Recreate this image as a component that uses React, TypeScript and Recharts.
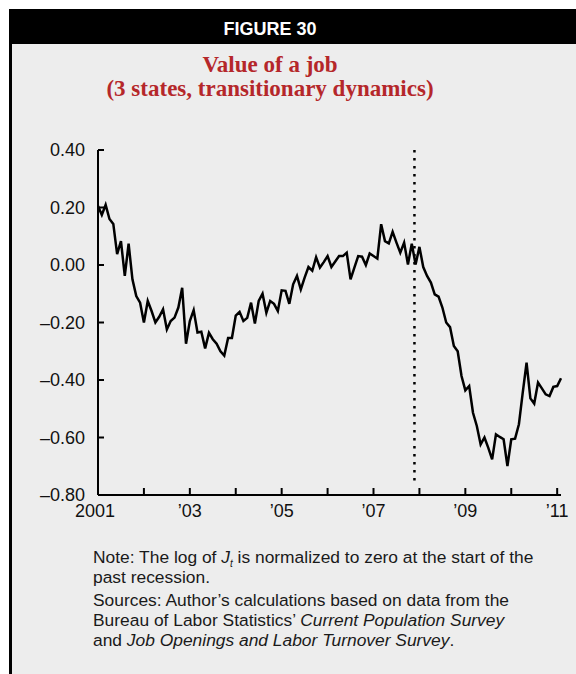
import { LineChart, Line, XAxis, YAxis, ReferenceLine } from "recharts"

// monthly, Jan 2001 .. Feb 2011 (log of J_t, normalized to 0 at Dec 2007)
const jobValue = [
  0.205, 0.174, 0.209, 0.16, 0.143, 0.038, 0.083, -0.038, 0.074, -0.05, -0.108, -0.131,
  -0.2, -0.125, -0.16, -0.2, -0.18, -0.154, -0.224, -0.195, -0.183, -0.148, -0.079, -0.274,
  -0.195, -0.157, -0.235, -0.232, -0.29, -0.236, -0.258, -0.274, -0.3, -0.315, -0.254, -0.254,
  -0.176, -0.163, -0.195, -0.184, -0.131, -0.204, -0.125, -0.1, -0.166, -0.125, -0.135, -0.16,
  -0.088, -0.09, -0.135, -0.067, -0.038, -0.085, -0.044, -0.007, -0.02, 0.027, -0.009, 0.01,
  0.031, -0.007, 0.012, 0.031, 0.031, 0.043, -0.05, -0.009, 0.031, 0.029, 0.0, 0.04,
  0.031, 0.022, 0.142, 0.083, 0.075, 0.115, 0.078, 0.043, 0.078, 0.002, 0.074, 0.002,
  0.063, -0.007, -0.038, -0.061, -0.102, -0.11, -0.148, -0.2, -0.216, -0.282, -0.3, -0.386,
  -0.436, -0.421, -0.514, -0.56, -0.624, -0.6, -0.636, -0.676, -0.589, -0.598, -0.606, -0.699,
  -0.606, -0.604, -0.554, -0.444, -0.34, -0.464, -0.482, -0.409, -0.429, -0.45, -0.456, -0.424,
  -0.421, -0.394,
]

const yearTicks = [0, 12, 24, 36, 48, 60, 72, 84, 96, 108, 120]
const yearLabels = ["2001", "", "\u201903", "", "\u201905", "", "\u201907", "", "\u201909", "", "\u201911"]
const valueTicks = [-0.8, -0.6, -0.4, -0.2, 0, 0.2, 0.4]
const recessionStart = 82.7

const data = jobValue.map((v, i) => ({ t: i, value: v }))

const FONT = "'Liberation Sans', Arial, Helvetica, sans-serif"

function fmt(v: number) {
  return v < 0 ? "\u2013" + Math.abs(v).toFixed(2) : v.toFixed(2)
}

function YearTick(props: any) {
  const { x, y, payload } = props
  const label = yearLabels[Math.round(payload.value / 12)]
  return (
    <g>
      <line x1={x} x2={x} y1={y} y2={y - 7} stroke="#000" strokeWidth={2} />
      <text x={payload.value === 0 ? x - 3 : x} y={y + 22} textAnchor="middle" fontSize={18} fill="#111" fontFamily={FONT}>
        {label}
      </text>
    </g>
  )
}

function ValueTick(props: any) {
  const { x, y, payload } = props
  return (
    <g>
      <line x1={x} x2={x + 6} y1={y} y2={y} stroke="#000" strokeWidth={2} />
      <text x={x - 13} y={y} dy="0.355em" textAnchor="end" fontSize={18} fill="#111" fontFamily={FONT}>
        {fmt(payload.value)}
      </text>
    </g>
  )
}

export default function App() {
  return (
    <div style={{ position: "absolute", left: 0, top: 0, width: 576, height: 674, background: "#fff", overflow: "hidden" }}>
      {/* frame */}
      <div style={{ position: "absolute", left: 9, top: 9, width: 620, height: 700, background: "#ededed", borderLeft: "3px solid #000" }} />
      <div style={{ position: "absolute", left: 9, top: 9, width: 620, height: 35, background: "#000" }} />
      <div
        style={{
          position: "absolute", left: 170, top: 19, width: 200, textAlign: "center",
          color: "#fff", fontFamily: FONT, fontWeight: 700, fontSize: 18, lineHeight: "20px",
        }}
      >
        FIGURE 30
      </div>
      <div
        style={{
          position: "absolute", left: 60, top: 53, width: 420, textAlign: "center",
          color: "#b5272a", fontFamily: "'Liberation Serif', 'Times New Roman', serif", fontWeight: 700,
          fontSize: 23, lineHeight: "24px",
        }}
      >
        Value of a job
        <br />
        (3 states, transitionary dynamics)
      </div>

      <div style={{ position: "absolute", left: 0, top: 0 }}>
        <LineChart width={576} height={560} data={data} margin={{ top: 150, right: 15, bottom: 35, left: 38 }}>
          <XAxis
            dataKey="t"
            type="number"
            domain={[0, 121]}
            ticks={yearTicks}
            tickSize={0}
            tickMargin={0}
            tick={<YearTick />}
            axisLine={{ stroke: "#000", strokeWidth: 2 }}
            height={30}
            interval={0}
          />
          <YAxis
            type="number"
            domain={[-0.8, 0.4]}
            ticks={valueTicks}
            tickSize={0}
            tickMargin={0}
            tick={<ValueTick />}
            axisLine={{ stroke: "#000", strokeWidth: 2 }}
            width={60}
            interval={0}
          />
          <ReferenceLine
            segment={[{ x: recessionStart, y: 0.4 }, { x: recessionStart, y: -0.755 }]}
            stroke="#000"
            strokeWidth={2.5}
            strokeDasharray="2.5 5.5"
          />
          <Line
            type="linear"
            dataKey="value"
            stroke="#000"
            strokeWidth={2.5}
            dot={false}
            isAnimationActive={false}
          />
        </LineChart>
      </div>

      <div style={{ position: "absolute", left: 93, top: 547, fontFamily: FONT, fontSize: 17.4, lineHeight: "20px", color: "#1a1a1a", whiteSpace: "nowrap" }}>
        <div>
          Note: The log of <i>J</i>
          <sub style={{ fontSize: 10, fontStyle: "italic", lineHeight: 0 }}>t</sub> is normalized to zero at the start of the
          <br />
          past recession.
        </div>
        <div style={{ marginTop: 3 }}>
          Sources: Author’s calculations based on data from the
          <br />
          Bureau of Labor Statistics’ <i>Current Population Survey</i>
          <br />
          and <i>Job Openings and Labor Turnover Survey</i>.
        </div>
      </div>
    </div>
  )
}
